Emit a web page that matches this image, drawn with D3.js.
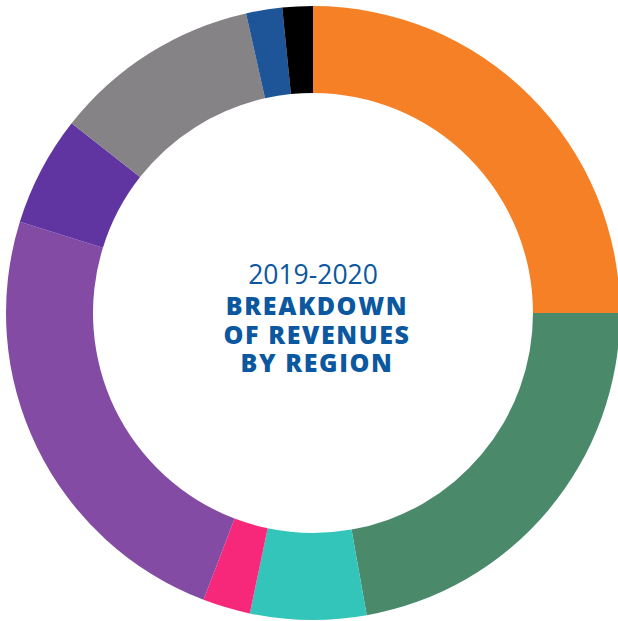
<!DOCTYPE html>
<html>
<head>
<meta charset="utf-8">
<script src="https://cdn.jsdelivr.net/npm/d3@7"></script>
<style>
  html, body { margin: 0; padding: 0; background: #fff; }
  svg { display: block; }
</style>
</head>
<body>
<svg id="chart"></svg>
<script>
// Share of revenues (%), clockwise from 12 o'clock
const regions = ["A", "B", "C", "D", "E", "F", "G", "H", "I"];
const shares = [25.0, 22.2, 6.1, 2.5, 24.0, 5.8, 10.9, 1.9, 1.6];
const colors = ["#f58025", "#4a8a6b", "#33c5b9", "#f7287a", "#844ba4", "#6035a1", "#858385", "#1d5598", "#000000"];
const titleLines = ["BREAKDOWN", "OF REVENUES", "BY REGION"];
const yearLabel = "2019-2020";

const width = 618, height = 621;
const cx = 313, cy = 313;
const outerR = 307, innerR = 220;

const svg = d3.select("#chart")
    .attr("width", width)
    .attr("height", height);

const g = svg.append("g")
    .attr("transform", `translate(${cx},${cy})`);

const data = regions.map((r, i) => ({ region: r, value: shares[i], color: colors[i] }));

const pie = d3.pie()
    .sort(null)
    .value(d => d.value);

const arc = d3.arc()
    .innerRadius(innerR)
    .outerRadius(outerR);

g.selectAll("path")
    .data(pie(data))
    .join("path")
    .attr("fill", d => d.data.color)
    .attr("d", arc);

// Centre title
g.append("text")
    .attr("x", 0)
    .attr("y", -29)
    .attr("text-anchor", "middle")
    .style("font-family", "'Open Sans', sans-serif")
    .style("font-size", "26.5px")
    .style("fill", "#0b57a0")
    .text(yearLabel);

g.selectAll("text.title")
    .data(titleLines)
    .join("text")
    .attr("class", "title")
    .attr("x", 4)
    .attr("y", (d, i) => 2 + i * 28.5)
    .attr("text-anchor", "middle")
    .style("font-family", "'Open Sans', sans-serif")
    .style("font-weight", "800")
    .style("font-size", "25px")
    .style("letter-spacing", "1.6px")
    .style("fill", "#0b57a0")
    .text(d => d);
</script>
</body>
</html>
